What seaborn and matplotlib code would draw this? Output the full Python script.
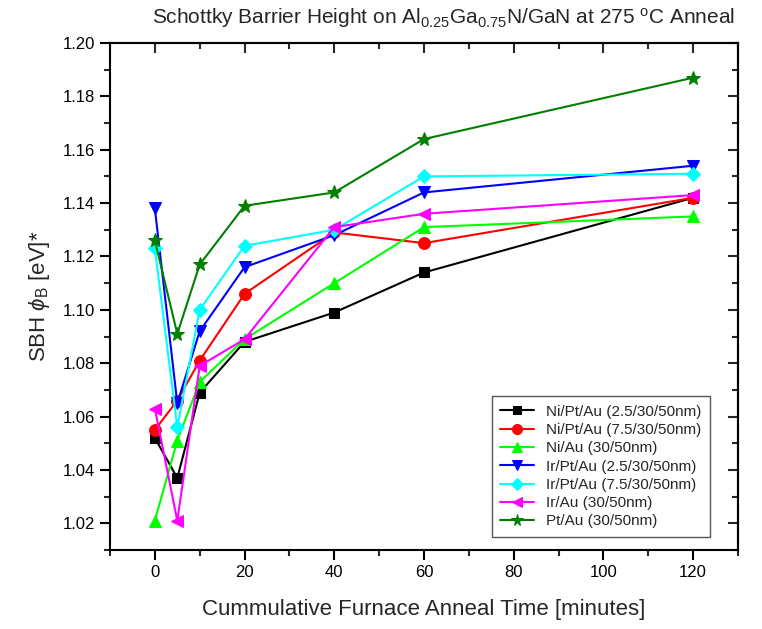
import matplotlib
matplotlib.use("Agg")
import matplotlib.pyplot as plt
import seaborn as sns
import pandas as pd
from matplotlib.ticker import MultipleLocator, NullFormatter

sns.set_style("ticks")
plt.rcParams['font.family'] = ['Liberation Sans', 'DejaVu Sans']
plt.rcParams['mathtext.fontset'] = 'custom'
plt.rcParams['mathtext.rm'] = 'Liberation Sans'
plt.rcParams['mathtext.it'] = 'Liberation Sans:italic'

time_min = [0, 5, 10, 20, 40, 60, 120]

labels = [
    "Ni/Pt/Au (2.5/30/50nm)",
    "Ni/Pt/Au (7.5/30/50nm)",
    "Ni/Au (30/50nm)",
    "Ir/Pt/Au (2.5/30/50nm)",
    "Ir/Pt/Au (7.5/30/50nm)",
    "Ir/Au (30/50nm)",
    "Pt/Au (30/50nm)",
]

ni_pt_au_25 = [1.052, 1.037, 1.069, 1.088, 1.099, 1.114, 1.142]
ni_pt_au_75 = [1.055, 1.066, 1.081, 1.106, 1.129, 1.125, 1.142]
ni_au = [1.021, 1.051, 1.073, 1.089, 1.110, 1.131, 1.135]
ir_pt_au_25 = [1.138, 1.065, 1.092, 1.116, 1.128, 1.144, 1.154]
ir_pt_au_75 = [1.123, 1.056, 1.100, 1.124, 1.130, 1.150, 1.151]
ir_au = [1.063, 1.021, 1.079, 1.089, 1.131, 1.136, 1.143]
pt_au = [1.126, 1.091, 1.117, 1.139, 1.144, 1.164, 1.187]

series = [ni_pt_au_25, ni_pt_au_75, ni_au, ir_pt_au_25, ir_pt_au_75, ir_au, pt_au]
colors = ["#000000", "#FF0000", "#00FF00", "#0000FF", "#00FFFF", "#FF00FF", "#008000"]
markers = ["s", "o", "^", "v", "D", "<", "*"]
msizes = [7.5, 8.5, 8.5, 8.5, 7.5, 8.5, 10]

fig = plt.figure(figsize=(7.62, 6.29), dpi=100)
ax = fig.add_axes([110/762, 1-550/629, (738-110)/762, (550-43)/629])

for lab, vals, c, m, ms in zip(labels, series, colors, markers, msizes):
    df = pd.DataFrame({"t": time_min, "sbh": vals})
    sns.lineplot(data=df, x="t", y="sbh", ax=ax, color=c, marker=m,
                 markersize=ms, markeredgecolor=c, linewidth=1.5, label=lab)

ax.set_xlim(-10, 130)
ax.set_ylim(1.01, 1.20)
ax.xaxis.set_major_locator(MultipleLocator(20))
ax.xaxis.set_minor_locator(MultipleLocator(10))
ax.yaxis.set_major_locator(MultipleLocator(0.02))
ax.yaxis.set_minor_locator(MultipleLocator(0.01))
ax.yaxis.set_major_formatter(matplotlib.ticker.FormatStrFormatter('%.2f'))

for s in ax.spines.values():
    s.set_linewidth(1.5)
    s.set_color('black')
ax.tick_params(axis='both', which='major', direction='out', length=7, width=1.5,
               labelsize=12, colors='black')
ax.tick_params(axis='both', which='minor', direction='out', length=4, width=1.5)

# mirrored inward ticks on top and right
top = ax.secondary_xaxis('top')
top.xaxis.set_major_locator(MultipleLocator(20))
top.xaxis.set_minor_locator(MultipleLocator(10))
top.xaxis.set_major_formatter(NullFormatter())
top.tick_params(which='major', direction='in', length=7, width=1.5)
top.tick_params(which='minor', direction='in', length=4, width=1.5)
top.spines['top'].set_linewidth(1.5)
right = ax.secondary_yaxis('right')
right.yaxis.set_major_locator(MultipleLocator(0.02))
right.yaxis.set_minor_locator(MultipleLocator(0.01))
right.yaxis.set_major_formatter(NullFormatter())
right.tick_params(which='major', direction='in', length=7, width=1.5)
right.tick_params(which='minor', direction='in', length=4, width=1.5)
right.spines['right'].set_linewidth(1.5)

ax.set_xlabel("Cummulative Furnace Anneal Time [minutes]", fontsize=16, labelpad=14)
ax.set_ylabel(r"SBH $\phi_{\rm B}$ [eV]*", fontsize=16, labelpad=8)

fig.text(0.582, 0.972, r"Schottky Barrier Height on Al$_{0.25}$Ga$_{0.75}$N/GaN at 275 $^{\rm o}$C Anneal",
         ha='center', va='center', fontsize=15)

leg = ax.legend(loc='lower right', bbox_to_anchor=(0.955, 0.026), fontsize=11,
                frameon=True, fancybox=False, edgecolor='#555555', framealpha=1,
                handlelength=2.2, labelspacing=0.28, borderpad=0.55, markerscale=0.85,
                borderaxespad=0)
leg.get_frame().set_linewidth(1.0)

fig.savefig("out.png", dpi=100)
